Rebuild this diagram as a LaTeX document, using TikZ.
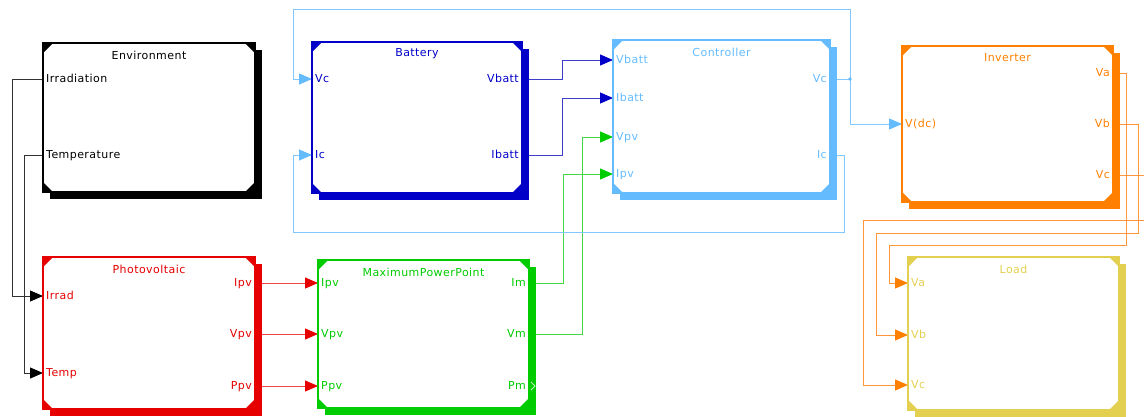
\documentclass[tikz,border=0pt]{standalone}
\usepackage{fontspec}
\newfontfamily\blkfamily[LetterSpace=4]{DejaVu Sans}
\usetikzlibrary{arrows.meta,calc,shadows,backgrounds}

\definecolor{envc}{RGB}{0,0,0}
\definecolor{batc}{RGB}{0,0,200}
\definecolor{ctlc}{RGB}{100,188,255}
\definecolor{invc}{RGB}{255,128,0}
\definecolor{loadc}{RGB}{228,208,80}
\definecolor{pvc}{RGB}{230,0,0}
\definecolor{mppc}{RGB}{0,204,0}
\definecolor{envw}{RGB}{50,50,50}
\definecolor{batw}{RGB}{60,60,205}
\definecolor{ctlw}{RGB}{130,200,255}
\definecolor{invw}{RGB}{255,150,60}
\definecolor{pvw}{RGB}{240,70,70}
\definecolor{mppw}{RGB}{70,215,70}

\begin{document}
\begin{tikzpicture}[x=1pt, y=-1pt,
  block/.style={rectangle, draw=#1, fill=white, line width=2.7pt, inner sep=0pt, outer sep=0pt,
    drop shadow={shadow xshift=6.5pt, shadow yshift=-6.5pt, fill=#1, opacity=1},
    path picture={
      \fill[#1] (path picture bounding box.north west) -- ++(10pt,0pt) -- ++(-10pt,-10pt) -- cycle;
      \fill[#1] (path picture bounding box.north east) -- ++(-10pt,0pt) -- ++(10pt,-10pt) -- cycle;
      \fill[#1] (path picture bounding box.south west) -- ++(10pt,0pt) -- ++(-10pt,10pt) -- cycle;
      \fill[#1] (path picture bounding box.south east) -- ++(-10pt,0pt) -- ++(10pt,10pt) -- cycle;
    }},
  blktitle/.style={font={\blkfamily\fontsize{11}{13}\selectfont}, text=#1, inner sep=0pt},
  inlbl/.style={font={\blkfamily\fontsize{11}{13}\selectfont}, text=#1, anchor=west,
    inner xsep=3pt, inner ysep=0pt, text height=8pt, text depth=2pt},
  outlbl/.style={inlbl=#1, anchor=east},
  wire/.style={line width=1pt, draw=#1},
  feed/.style={-{Triangle[length=13pt, width=11pt, color=#1]}},
]

\begin{scope}[on background layer]
  \fill[white] (0,0) rectangle (1144,416);
\end{scope}
\useasboundingbox (0,0) rectangle (1144,416);

% Blocks: name/colour/left/top/right/bottom/title
\foreach \n/\c/\xa/\ya/\xb/\yb/\t in {
  env/envc/43/43/255/192/Environment,
  bat/batc/312/42/522/193/Battery,
  ctl/ctlc/613/40/830/193/Controller,
  inv/invc/902/46/1113/202/Inverter,
  pv/pvc/43/257/255/409/Photovoltaic,
  mpp/mppc/318/260/529/408/MaximumPowerPoint,
  load/loadc/908/257/1119/410/Load
} {
  \node[block=\c, minimum width={\xb-\xa}, minimum height={\yb-\ya}] (\n) at ({(\xa+\xb)/2},{(\ya+\yb)/2}) {};
  \node[blktitle=\c] (\n-t) at ($(\n.north)+(0,12)$) {\t};
}

% Ports on the left side
\foreach \bk/\p/\y/\t in {
  env/irr/79/Irradiation, env/tmp/155/Temperature,
  bat/vc/79/Vc, bat/ic/155/Ic,
  ctl/vbatt/60/Vbatt, ctl/ibatt/98/Ibatt, ctl/vpv/137/Vpv, ctl/ipv/174/Ipv,
  inv/vdc/124/V(dc),
  pv/irr/296/Irrad, pv/tmp/373/Temp,
  mpp/ipv/283/Ipv, mpp/vpv/334/Vpv, mpp/ppv/386/Ppv,
  load/va/283/Va, load/vb/335/Vb, load/vc/385/Vc
} {
  \node[inlbl=\bk c] (\bk-\p) at (\bk.west |- 0,\y) {\t};
}

% Ports on the right side
\foreach \bk/\p/\y/\t in {
  bat/vbatt/79/Vbatt, bat/ibatt/155/Ibatt,
  ctl/vc/79/Vc, ctl/ic/155/Ic,
  inv/va/73/Va, inv/vb/124/Vb, inv/vc/175/Vc,
  pv/ipv/283/Ipv, pv/vpv/334/Vpv, pv/ppv/386/Ppv,
  mpp/im/283/Im, mpp/vm/334/Vm, mpp/pm/386/Pm
} {
  \node[outlbl=\bk c] (\bk-\p) at (\bk.east |- 0,\y) {\t};
}

% Open output port
\draw[mppc!25!white, line width=1pt] ($(mpp-pm.east)+(2,-4)$) -- ++(4,4) -- ++(-4,4);

% Feedback corners
\coordinate (fb-top) at (293,9);
\coordinate (fb-bot) at (293,232);
\coordinate (vc-dot) at ($(ctl-vc.east)+(20,0)$);

\begin{scope}[on background layer]
  % Environment to photovoltaic
  \draw[wire=envw, feed=envc] (env-irr.west) -- ++(-31,0) |- (pv-irr.west);
  \draw[wire=envw, feed=envc] (env-tmp.west) -- ++(-19,0) |- (pv-tmp.west);
  % Photovoltaic to MPP
  \foreach \p in {ipv,vpv,ppv} {
    \draw[wire=pvw, feed=pvc] (pv-\p.east) -- (mpp-\p.west);
  }
  % MPP to controller
  \draw[wire=mppw, feed=mppc] (mpp-im.east) -- ++(34,0) |- (ctl-ipv.west);
  \draw[wire=mppw, feed=mppc] (mpp-vm.east) -- ++(53,0) |- (ctl-vpv.west);
  % Battery to controller
  \draw[wire=batw, feed=batc] (bat-vbatt.east) -- ++(40,0) |- (ctl-vbatt.west);
  \draw[wire=batw, feed=batc] (bat-ibatt.east) -- ++(40,0) |- (ctl-ibatt.west);
  % Controller outputs
  \draw[wire=ctlw] (ctl-vc.east) -- (vc-dot);
  \draw[wire=ctlw, feed=ctlc] (vc-dot) |- (inv-vdc.west);
  \draw[wire=ctlw, feed=ctlc] (vc-dot) |- (fb-top) |- (bat-vc.west);
  \draw[wire=ctlw, feed=ctlc] (ctl-ic.east) -- ++(14,0) |- (fb-bot) |- (bat-ic.west);
  % Inverter to load
  \draw[wire=invw, feed=invc] (inv-va.east) -- ++(13,0) -- ++(0,172) -| ($(load-va.west)+(-19,0)$) -- (load-va.west);
  \draw[wire=invw, feed=invc] (inv-vb.east) -- ++(25,0) -- ++(0,109) -| ($(load-vb.west)+(-32,0)$) -- (load-vb.west);
  \draw[wire=invw, feed=invc] (inv-vc.east) -- ++(31,0) -- ++(0,45) -| ($(load-vc.west)+(-45,0)$) -- (load-vc.west);
\end{scope}
\fill[ctlc] (vc-dot) circle (1.8);

\end{tikzpicture}
\end{document}
